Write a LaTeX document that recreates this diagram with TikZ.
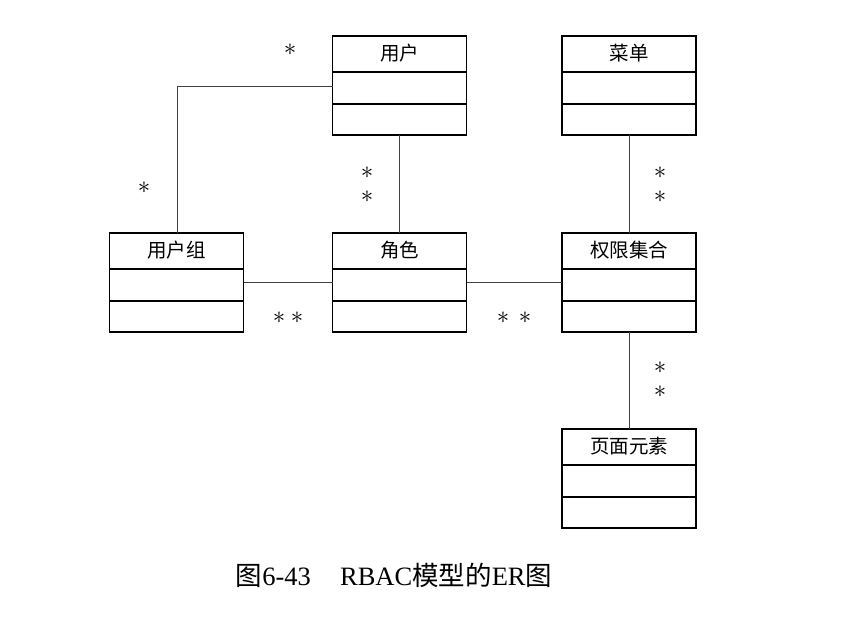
\documentclass[tikz,border=0pt]{standalone}
\usepackage{fontspec}
\setmainfont{Liberation Serif}
\newfontfamily\cjk{Noto Sans CJK SC}
\usetikzlibrary{calc}
\tikzset{
  entity/.style={draw=black, line width=1.5pt, minimum width=134pt, minimum height=99pt, inner sep=0pt, outer sep=0pt},
  title/.style={font=\cjk\fontsize{19.5}{21}\selectfont, inner sep=0pt},
  conn/.style={draw=black!75, line width=1pt},
  mult/.style={font=\fontsize{26}{28}\selectfont, inner sep=0pt},
  caption/.style={font=\fontsize{26.5}{28}\selectfont, inner sep=0pt}
}
\newcommand{\entitybox}[4]{% name, x, y, title
  \node[entity] (#1) at (#2,#3) {};
  \draw[line width=1.5pt] ($(#1.north west)+(0,36)$) -- ($(#1.north east)+(0,36)$);
  \draw[line width=1.5pt] ($(#1.north west)+(0,68)$) -- ($(#1.north east)+(0,68)$);
  \node[title] (#1-t) at ($(#1.north)+(0,17)$) {#4};
}
\begin{document}
\begin{tikzpicture}[x=1pt, y=-1pt]
\useasboundingbox (0,0) rectangle (845,616);
\fill[white] (0,0) rectangle (845,616);
\entitybox{user}{399.5}{85.5}{用户}
\entitybox{menu}{629}{85.5}{菜单}
\entitybox{group}{176.5}{282.5}{用户组}
\entitybox{role}{399.5}{282.5}{角色}
\entitybox{perm}{629}{282.5}{权限集合}
\entitybox{page}{629}{478.5}{页面元素}
% connectors
\coordinate (bend) at (177,86);
\draw[conn] (user.west |- bend) -- (bend) -- (bend |- group.north);
\draw[conn] (user.south) -- (role.north);
\draw[conn] (group.east |- 0,282) -- (role.west |- 0,282);
\draw[conn] (role.east |- 0,282) -- (perm.west |- 0,282);
\draw[conn] (menu.south) -- (perm.north);
\draw[conn] (perm.south) -- (page.north);
% multiplicities
\node[mult] (m1) at (290,50) {$\ast$};
\node[mult] (m2) at (144,188) {$\ast$};
\node[mult] (m3) at (367,173) {$\ast$};
\node[mult] (m4) at (367,197) {$\ast$};
\node[mult] (m5a) at (279,318) {$\ast$};
\node[mult] (m5b) at (297,318) {$\ast$};
\node[mult] (m6a) at (503,318) {$\ast$};
\node[mult] (m6b) at (525,318) {$\ast$};
\node[mult] (m7) at (660,173) {$\ast$};
\node[mult] (m8) at (660,197) {$\ast$};
\node[mult] (m9) at (660,368) {$\ast$};
\node[mult] (m10) at (660,392) {$\ast$};
% caption
\node[caption] (cap) at (394,575) {{\cjk 图}6-43\hspace{1.1em}RBAC{\cjk 模型的}ER{\cjk 图}};
\end{tikzpicture}
\end{document}
